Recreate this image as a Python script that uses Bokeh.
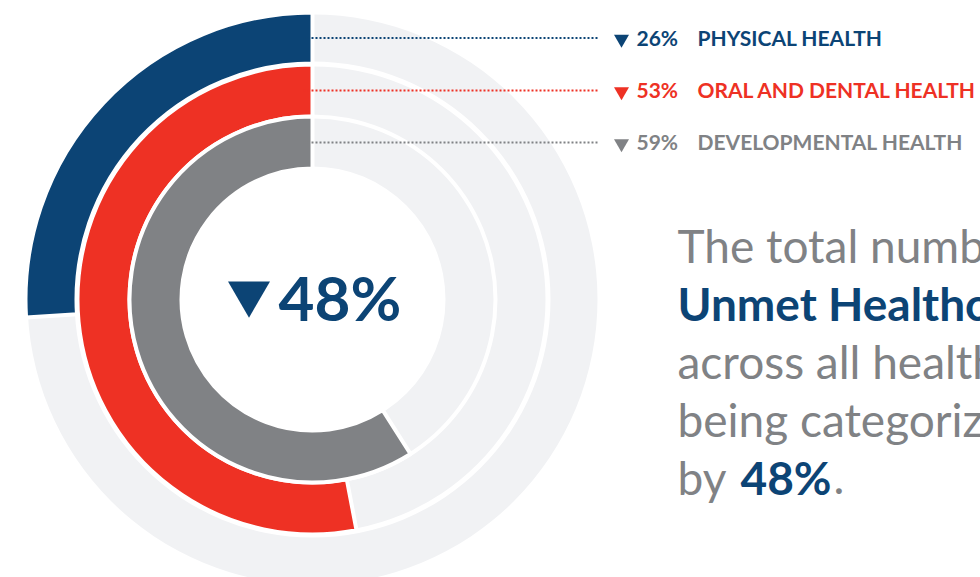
import math
from bokeh.plotting import figure
from bokeh.models import Range1d
from bokeh.core.properties import value
from bokeh.embed import file_html
from bokeh.resources import INLINE

# ---- data ----
categories = ["PHYSICAL HEALTH", "ORAL AND DENTAL HEALTH", "DEVELOPMENTAL HEALTH"]
changes = [26, 53, 59]          # % decrease per category
overall_change = 48             # % decrease overall
colors = ["#0c4475", "#ee3124", "#808285"]
track_color = "#f1f2f4"
para_lines = ["The total number", "Unmet Healthcare", "across all health", "being categorized"]
para_bold = [False, True, False, False]
last_line = ["by ", "48%", "."]

FONT = value("Lato")
W, H = 980, 577
p = figure(width=W, height=H, x_range=Range1d(0, W), y_range=Range1d(0, H),
           output_backend="svg", toolbar_location=None, min_border=0)
p.axis.visible = False
p.grid.visible = False
p.outline_line_color = None
p.background_fill_color = "white"
p.border_fill_color = "white"

cx, cy = 312, 278
inner_r = [238, 185, 133]
outer_r = [285, 233, 181]

# background tracks
p.annulus(x=[cx] * 3, y=[cy] * 3, inner_radius=inner_r, outer_radius=outer_r,
          fill_color=track_color, line_color=None)

# value arcs (counter-clockwise from 12 o'clock)
start = [math.pi / 2] * 3
end = [math.pi / 2 + 2 * math.pi * v / 100 for v in changes]
p.annular_wedge(x=[cx] * 3, y=[cy] * 3,
                inner_radius=[r - 2 for r in inner_r], outer_radius=[r + 2 for r in outer_r],
                start_angle=start, end_angle=end, direction="anticlock",
                fill_color=colors, line_color="white", line_width=4)

# leader lines
mid = [cy + (a + b) / 2 for a, b in zip(inner_r, outer_r)]
p.segment(x0=[303] * 3, y0=mid, x1=[598] * 3, y1=mid, line_color=colors,
          line_dash="2 2", line_width=2)

# labels
p.scatter(x=[621] * 3, y=[m - 1 for m in mid], marker="inverted_triangle", size=15,
          fill_color=colors, line_color=None)
p.text(x=[636] * 3, y=[m + 1 for m in mid], text=[f"{v}%" for v in changes],
       text_font=FONT, text_font_style="bold", text_font_size="21px",
       text_color=colors, text_baseline="alphabetic", text_align="left")
p.text(x=[697] * 3, y=[m + 1 for m in mid], text=categories,
       text_font=FONT, text_font_style="bold", text_font_size="21px",
       text_color=colors, text_baseline="alphabetic", text_align="left")

# center value
p.scatter(x=[248.5], y=[284], marker="inverted_triangle", size=42,
          fill_color=colors[0], line_color=None)
p.text(x=[278], y=[281], text=[f"{overall_change}%"], text_font=FONT,
       text_font_style="bold", text_font_size="62px", text_color=colors[0],
       text_baseline="alphabetic", text_align="left")

# paragraph
base0 = 332
step = 58
for i, (line, b) in enumerate(zip(para_lines, para_bold)):
    p.text(x=[677], y=[base0 - i * step], text=[line], text_font=FONT,
           text_font_style="bold" if b else "normal", text_font_size="46px",
           text_color=colors[0] if b else colors[2], text_baseline="alphabetic")
yl = base0 - len(para_lines) * step
p.text(x=[677], y=[yl], text=[last_line[0]], text_font=FONT, text_font_size="46px",
       text_color=colors[2], text_baseline="alphabetic")
p.text(x=[740], y=[yl], text=[last_line[1]], text_font=FONT, text_font_style="bold",
       text_font_size="46px", text_color=colors[0], text_baseline="alphabetic")
p.text(x=[833], y=[yl], text=[last_line[2]], text_font=FONT, text_font_size="46px",
       text_color=colors[2], text_baseline="alphabetic")

open("out.html", "w").write(file_html(p, INLINE))
